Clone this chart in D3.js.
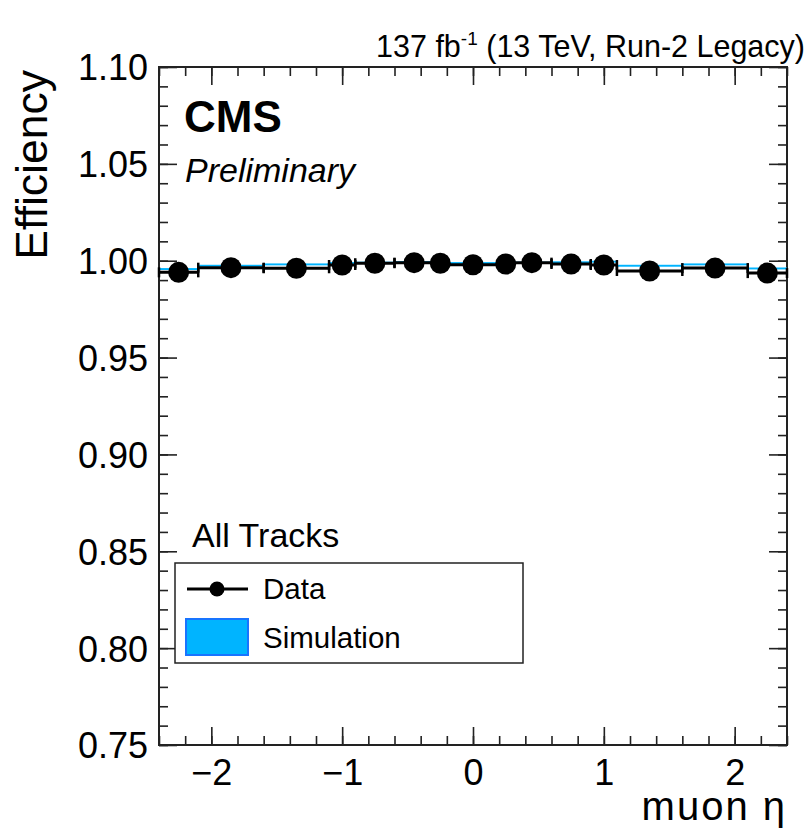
<!DOCTYPE html>
<html>
<head>
<meta charset="utf-8">
<script src="https://cdn.jsdelivr.net/npm/d3@7"></script>
<style>
  body { margin: 0; background: #fff; }
  text { font-family: "Liberation Sans", Arial, Helvetica, sans-serif; }
</style>
</head>
<body>
<div id="chart"></div>
<script>
// eta bin edges (muon eta)
var binEdges = [-2.4, -2.1, -1.6, -1.1, -0.9, -0.6, -0.3, -0.2, 0.2, 0.3, 0.6, 0.9, 1.1, 1.6, 2.1, 2.4];
// efficiency per bin
var dataEff = [0.9940, 0.9964, 0.9961, 0.9978, 0.9987, 0.9990, 0.9987, 0.9979, 0.9983, 0.9990, 0.9983, 0.9978, 0.9947, 0.9962, 0.9936];
var simEff = [0.9957, 0.9974, 0.9981, 0.9988, 0.9990, 0.9993, 0.9990, 0.9988, 0.9988, 0.9990, 0.9992, 0.9995, 0.9974, 0.9981, 0.9960];
var simErr = [0.0005, 0.0005, 0.0005, 0.0005, 0.0005, 0.0005, 0.0005, 0.0005, 0.0005, 0.0005, 0.0005, 0.0005, 0.0005, 0.0005, 0.0005];
var xMajorTicks = [-2, -1, 0, 1, 2];
var yMajorTicks = [0.75, 0.80, 0.85, 0.90, 0.95, 1.00, 1.05, 1.10];

var width = 810, height = 831;
var margin = { top: 67, right: 23, bottom: 86, left: 159 };

var svg = d3.select("#chart").append("svg")
    .attr("width", width)
    .attr("height", height);

var x = d3.scaleLinear().domain([-2.4, 2.4]).range([margin.left, width - margin.right]);
var y = d3.scaleLinear().domain([0.75, 1.10]).range([height - margin.bottom, margin.top]);

var xMinor = d3.range(-24, 25, 2).map(function (d) { return d / 10; });
var yMinor = d3.range(75, 111, 1).map(function (d) { return d / 100; });

var fmtX = function (d) { return d < 0 ? "\u2212" + Math.abs(d) : String(d); };
var fmtY = d3.format(".2f");

var bins = dataEff.map(function (d, i) {
    return { lo: binEdges[i], hi: binEdges[i + 1], eff: d, sim: simEff[i], simErr: simErr[i] };
});

// axes: major + minor ticks on all four sides
function drawAxis(axis, transform, cls) {
    var g = svg.append("g").attr("class", cls).attr("transform", transform).call(axis);
    g.select(".domain").remove();
    g.selectAll(".tick line").attr("stroke", "#222").attr("stroke-width", 1.6);
    return g;
}

var bottomY = y.range()[0], topY = y.range()[1];
var leftX = x.range()[0], rightX = x.range()[1];

drawAxis(d3.axisBottom(x).tickValues(xMinor).tickSize(-9).tickFormat(""), "translate(0," + bottomY + ")", "xminor");
var xg = drawAxis(d3.axisBottom(x).tickValues(xMajorTicks).tickSize(-18).tickPadding(14).tickFormat(fmtX), "translate(0," + bottomY + ")", "xmajor");
drawAxis(d3.axisTop(x).tickValues(xMinor).tickSize(-9).tickFormat(""), "translate(0," + topY + ")", "xminor-top");
drawAxis(d3.axisTop(x).tickValues(xMajorTicks).tickSize(-18).tickFormat(""), "translate(0," + topY + ")", "xmajor-top");

drawAxis(d3.axisLeft(y).tickValues(yMinor).tickSize(-9).tickFormat(""), "translate(" + leftX + ",0)", "yminor");
var yg = drawAxis(d3.axisLeft(y).tickValues(yMajorTicks).tickSize(-18).tickPadding(11).tickFormat(fmtY), "translate(" + leftX + ",0)", "ymajor");
drawAxis(d3.axisRight(y).tickValues(yMinor).tickSize(-9).tickFormat(""), "translate(" + rightX + ",0)", "yminor-r");
drawAxis(d3.axisRight(y).tickValues(yMajorTicks).tickSize(-18).tickFormat(""), "translate(" + rightX + ",0)", "ymajor-r");

xg.selectAll("text").attr("font-size", 36).attr("fill", "#000")
    .style("font-family", "Liberation Sans, Arial, sans-serif");
yg.selectAll("text").attr("font-size", 36).attr("fill", "#000").attr("dy", "0.36em")
    .style("font-family", "Liberation Sans, Arial, sans-serif");

// frame
svg.append("rect")
    .attr("x", leftX).attr("y", topY)
    .attr("width", rightX - leftX).attr("height", bottomY - topY)
    .attr("fill", "none").attr("stroke", "#222").attr("stroke-width", 2);

// simulation band
svg.selectAll(".sim").data(bins).enter().append("rect")
    .attr("class", "sim")
    .attr("x", function (d) { return x(d.lo); })
    .attr("width", function (d) { return x(d.hi) - x(d.lo); })
    .attr("y", function (d) { return y(d.sim + d.simErr); })
    .attr("height", function (d) { return y(d.sim - d.simErr) - y(d.sim + d.simErr); })
    .attr("fill", "#00b4ff");

// data: horizontal error bars with end caps, then markers
svg.selectAll(".xerr").data(bins).enter().append("line")
    .attr("class", "xerr")
    .attr("x1", function (d) { return x(d.lo); })
    .attr("x2", function (d) { return x(d.hi); })
    .attr("y1", function (d) { return y(d.eff); })
    .attr("y2", function (d) { return y(d.eff); })
    .attr("stroke", "#000").attr("stroke-width", 3);

bins.forEach(function (d) {
    [d.lo, d.hi].forEach(function (e) {
        svg.append("line")
            .attr("x1", x(e)).attr("x2", x(e))
            .attr("y1", y(d.eff) - 5).attr("y2", y(d.eff) + 5)
            .attr("stroke", "#000").attr("stroke-width", 2.5);
    });
});

svg.selectAll(".pt").data(bins).enter().append("circle")
    .attr("class", "pt")
    .attr("cx", function (d) { return x((d.lo + d.hi) / 2); })
    .attr("cy", function (d) { return y(d.eff); })
    .attr("r", 10.5)
    .attr("fill", "#000");

// labels
svg.append("text")
    .attr("transform", "translate(47," + (topY + 3) + ") rotate(-90)")
    .attr("text-anchor", "end")
    .attr("font-size", 44.5)
    .text("Efficiency");

svg.append("text")
    .attr("x", rightX).attr("y", 820)
    .attr("text-anchor", "end")
    .attr("font-size", 40)
    .attr("letter-spacing", 2)
    .text("muon \u03b7");

var lumi = svg.append("text")
    .attr("x", 805).attr("y", 57)
    .attr("text-anchor", "end")
    .attr("font-size", 30.5);
lumi.append("tspan").text("137 fb");
lumi.append("tspan").attr("dy", -12).attr("font-size", 19).text("-1");
lumi.append("tspan").attr("dy", 12).text(" (13 TeV, Run-2 Legacy)");

svg.append("text")
    .attr("x", 184).attr("y", 132)
    .attr("font-size", 44).attr("font-weight", "bold")
    .text("CMS");

svg.append("text")
    .attr("x", 185).attr("y", 182)
    .attr("font-size", 34).attr("font-style", "italic")
    .text("Preliminary");

svg.append("text")
    .attr("x", 192).attr("y", 547)
    .attr("font-size", 34)
    .text("All Tracks");

// legend
var legend = svg.append("g");
legend.append("rect")
    .attr("x", 175).attr("y", 563).attr("width", 348).attr("height", 100)
    .attr("fill", "#fff").attr("stroke", "#222").attr("stroke-width", 1.5);
legend.append("line")
    .attr("x1", 187).attr("x2", 248).attr("y1", 589).attr("y2", 589)
    .attr("stroke", "#000").attr("stroke-width", 3);
legend.append("circle")
    .attr("cx", 217).attr("cy", 589).attr("r", 7.5).attr("fill", "#000");
legend.append("text")
    .attr("x", 263).attr("y", 599).attr("font-size", 29.5).text("Data");
legend.append("rect")
    .attr("x", 186).attr("y", 619).attr("width", 62).attr("height", 36)
    .attr("fill", "#00b4ff").attr("stroke", "#1874ff").attr("stroke-width", 2);
legend.append("text")
    .attr("x", 263).attr("y", 648).attr("font-size", 29.5).text("Simulation");
</script>
</body>
</html>
